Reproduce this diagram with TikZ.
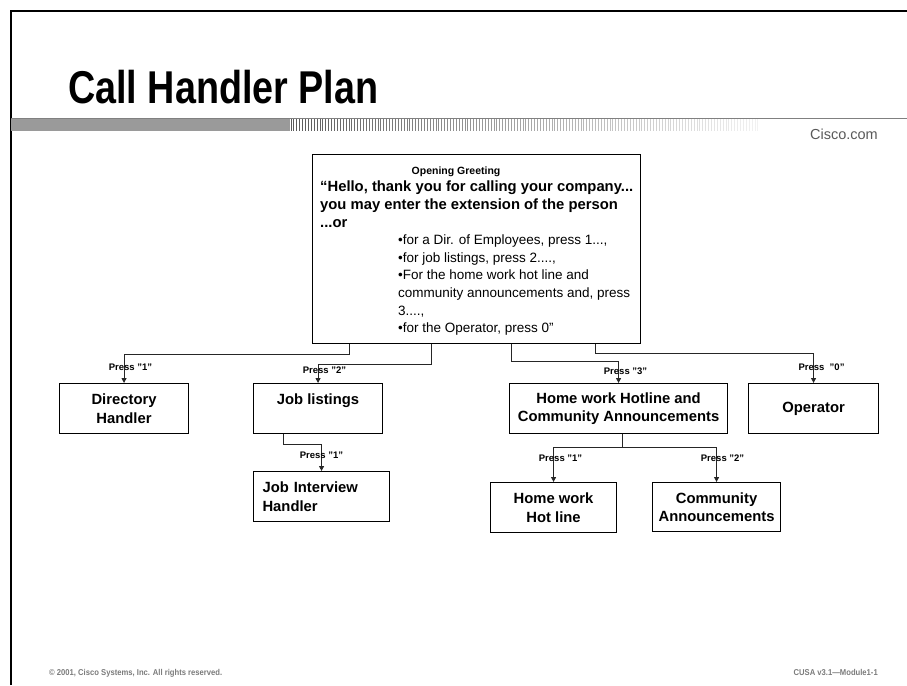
\documentclass[tikz,border=0pt]{standalone}
\usepackage{fontspec}
\setmainfont{Liberation Sans}
\newfontfamily\narrowsans[FakeStretch=0.82]{Liberation Sans}
\newfontfamily\notesans[FakeStretch=0.9]{Liberation Sans}
\usetikzlibrary{arrows.meta,positioning}

\definecolor{bargray}{HTML}{9A9A9A}
\definecolor{linegray}{HTML}{808080}
\definecolor{notegray}{HTML}{7A7A7A}

% indented menu line in the greeting
\newcommand\menuline[1]{\hspace*{78pt}{\fontsize{13.5}{17.6}\selectfont\mdseries #1}}

\tikzset{
  handler/.style={draw=black, line width=1.1pt, inner sep=0pt, anchor=north west,
    align=center, font=\fontsize{14.8}{18.5}\selectfont\bfseries},
  link/.style={draw=black!85, line width=0.9pt, -{Triangle[length=5pt,width=5pt]}},
  press/.style={inner sep=0pt, anchor=base, font=\fontsize{9.5}{11}\selectfont\bfseries},
  footnote/.style={inner sep=0pt, text=notegray, font=\notesans\fontsize{8.5}{10}\selectfont\bfseries},
}

\begin{document}
\begin{tikzpicture}[x=1pt,y=-1pt]
\useasboundingbox (0,0) rectangle (907,685);

% page frame
\draw[line width=2.6pt] (11,685) -- (11,11) -- (907,11);

% heading and bar
\node[anchor=base west, inner sep=0pt, font=\narrowsans\fontsize{46}{50}\selectfont\bfseries] (heading) at (68,103) {Call Handler Plan};
\fill[bargray] (11,118) rectangle (290,131);
\foreach \i in {0,...,161} {
  \pgfmathsetmacro\shade{65-60*\i/161}
  \draw[line width=0.9pt, black!\shade] ({291+\i*2.9},119) -- ({291+\i*2.9},131);
}
\draw[linegray, line width=1.6pt] (11,118.5) -- (907,118.5);
\node[anchor=base east, inner sep=0pt, text=black!65, font=\fontsize{14.5}{16}\selectfont] (site) at (878,139) {Cisco.com};

% greeting box
\node[handler, minimum width=328pt, minimum height=189pt] (greet) at (312,154) {};
\node[anchor=base, inner sep=0pt, font=\fontsize{10.5}{12}\selectfont\bfseries] (greethead) at (456,174) {Opening Greeting};
\node[anchor=north west, inner sep=0pt, align=left, font=\fontsize{14.8}{17.6}\selectfont\bfseries] (greetmsg) at (320,181) {%
  “Hello, thank you for calling your company...\\
  you may enter the extension of the person\\
  ...or\\
  \menuline{•for a Dir. of Employees, press 1...,}\\
  \menuline{•for job listings, press 2....,}\\
  \menuline{•For the home work hot line and}\\
  \menuline{community announcements and, press}\\
  \menuline{3....,}\\
  \menuline{•for the Operator, press 0”}};

% handlers
\node[handler, minimum width=129pt, minimum height=50pt] (dir) at (59,383) {Directory\\Handler};
\node[handler, minimum width=129pt, minimum height=50pt] (job) at (253,383) {Job listings\\\mbox{}};
\node[handler, minimum width=218pt, minimum height=50pt] (hca) at (509,383) {Home work Hotline and\\Community Announcements};
\node[handler, minimum width=130pt, minimum height=50pt] (op) at (748,383) {Operator};
\node[handler, minimum width=136pt, minimum height=50pt, align=left, text width=118pt] (intv) at (253,471) {Job Interview\\Handler};
\node[handler, minimum width=126pt, minimum height=50pt] (hot) at (490,482) {Home work\\Hot line};
\node[handler, minimum width=128pt, minimum height=49pt] (comm) at (652,482) {Community\\Announcements};

% menu choices
\draw[link] ([xshift=37pt]greet.south west) -- ++(0,10) -| (dir.north);
\draw[link] ([xshift=119pt]greet.south west) -- ++(0,20) -| (job.north);
\draw[link] ([xshift=199pt]greet.south west) -- ++(0,17) -| (hca.north);
\draw[link] ([xshift=283pt]greet.south west) -- ++(0,9) -| (op.north);
\draw[link] ([xshift=30pt]job.south west) -- ++(0,10) -| (intv.north);
\draw[link] ([xshift=4pt]hca.south) -- ++(0,13) -| (hot.north);
\draw[link] ([xshift=4pt]hca.south) -- ++(0,13) -| (comm.north);

\node[press] (pdir) at ([xshift=6.5pt,yshift=13pt]dir.north) {Press "1"};
\node[press] (pjob) at ([xshift=6.5pt,yshift=10pt]job.north) {Press "2"};
\node[press] (phca) at ([xshift=7pt,yshift=8.5pt]hca.north) {Press "3"};
\node[press] (pop) at ([xshift=8pt,yshift=12.5pt]op.north) {Press~~"0"};
\node[press] (pintv) at ([yshift=12.5pt]intv.north) {Press "1"};
\node[press] (phot) at ([xshift=7pt,yshift=20.5pt]hot.north) {Press "1"};
\node[press] (pcomm) at ([xshift=6pt,yshift=20.5pt]comm.north) {Press "2"};

% footer
\node[footnote, anchor=base west] (copy) at (49,675) {© 2001, Cisco Systems, Inc. All rights reserved.};
\node[footnote, anchor=base east] (module) at (878,675) {CUSA v3.1—Module1-1};
\end{tikzpicture}
\end{document}
